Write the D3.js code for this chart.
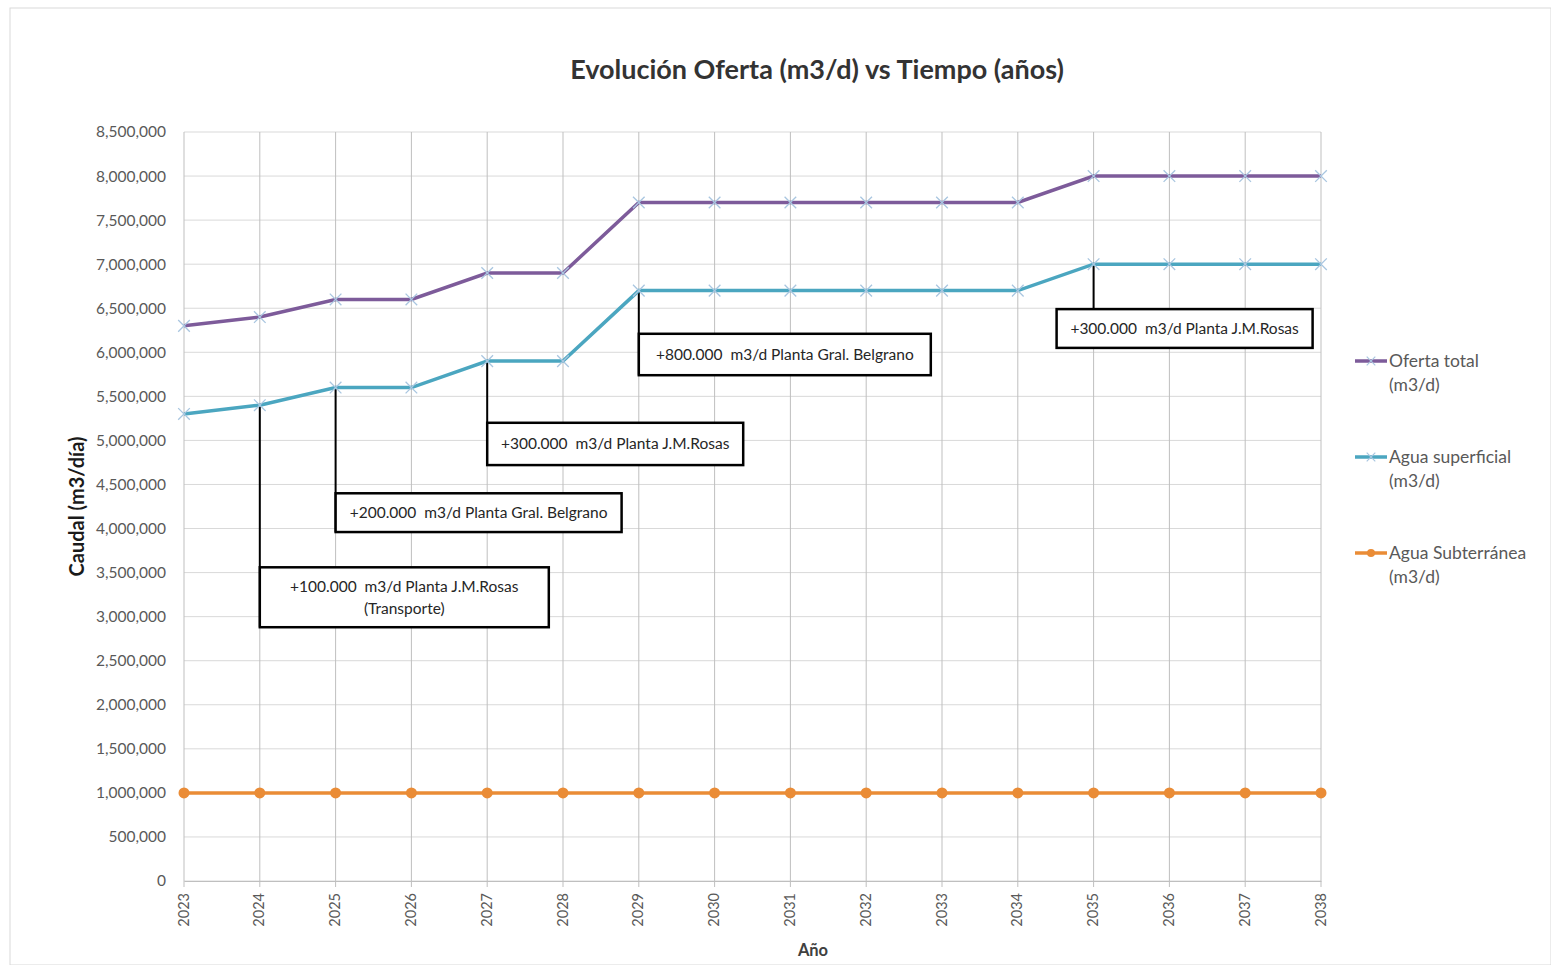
<!DOCTYPE html>
<html>
<head>
<meta charset="utf-8">
<script src="https://d3js.org/d3.v7.min.js"></script>
<style>
body { margin: 0; background: #fff; }
text { font-family: Lato, "Open Sans", sans-serif; }
</style>
</head>
<body>
<svg id="chart"></svg>
<script>
// data
var years = ["2023","2024","2025","2026","2027","2028","2029","2030","2031","2032","2033","2034","2035","2036","2037","2038"];
var ofertaTotal = [6300000,6400000,6600000,6600000,6900000,6900000,7700000,7700000,7700000,7700000,7700000,7700000,8000000,8000000,8000000,8000000];
var aguaSuperficial = [5300000,5400000,5600000,5600000,5900000,5900000,6700000,6700000,6700000,6700000,6700000,6700000,7000000,7000000,7000000,7000000];
var aguaSubterranea = [1000000,1000000,1000000,1000000,1000000,1000000,1000000,1000000,1000000,1000000,1000000,1000000,1000000,1000000,1000000,1000000];
var yTicks = [0,500000,1000000,1500000,2000000,2500000,3000000,3500000,4000000,4500000,5000000,5500000,6000000,6500000,7000000,7500000,8000000,8500000];

var seriesNames = ["Oferta total", "Agua superficial", "Agua Subterránea"];

// annotations: year of the step, box top / bottom in axis units
var notes = [
  {year: "2024", lines: ["+100.000  m3/d Planta J.M.Rosas", "(Transporte)"], top: 3560000, bottom: 2880000, w: 289, dx: 0},
  {year: "2025", lines: ["+200.000  m3/d Planta Gral. Belgrano"], top: 4400000, bottom: 3960000, w: 286, dx: 0},
  {year: "2027", lines: ["+300.000  m3/d Planta J.M.Rosas"], top: 5200000, bottom: 4720000, w: 256, dx: 0},
  {year: "2029", lines: ["+800.000  m3/d Planta Gral. Belgrano"], top: 6210000, bottom: 5740000, w: 292, dx: 0},
  {year: "2035", lines: ["+300.000  m3/d Planta J.M.Rosas"], top: 6490000, bottom: 6050000, w: 256, dx: -37}
];

var W = 1551, H = 965;
var margin = {top: 132, right: 230, bottom: 84, left: 184},
width = W - margin.left - margin.right,
height = H - margin.top - margin.bottom;

var svg = d3.select("#chart")
.attr("width", W)
.attr("height", H);

// chart frame
svg.append("rect")
.attr("x", 10).attr("y", 8)
.attr("width", W - 10).attr("height", H - 8)
.attr("fill", "#fff")
.attr("stroke", "#d9d9d9");

svg.append("text")
.attr("x", 817).attr("y", 79)
.attr("text-anchor", "middle")
.attr("font-size", 27)
.attr("font-weight", "bold")
.attr("fill", "#333")
.text("Evolución Oferta (m3/d) vs Tiempo (años)");

var g = svg.append("g")
.attr("transform", "translate(" + margin.left + "," + margin.top + ")");

var x = d3.scalePoint()
.domain(years)
.range([0, width]);

var y = d3.scaleLinear()
.domain([0, 8500000])
.range([height, 0]);

// horizontal grid
g.append("g")
.selectAll("line")
.data(yTicks)
.enter()
.append("line")
.attr("x1", 0).attr("x2", width)
.attr("y1", function(d) { return y(d); })
.attr("y2", function(d) { return y(d); })
.attr("stroke", "#d9d9d9");

// vertical grid
g.append("g")
.selectAll("line")
.data(years)
.enter()
.append("line")
.attr("x1", function(d) { return x(d); })
.attr("x2", function(d) { return x(d); })
.attr("y1", 0).attr("y2", height + 6)
.attr("stroke", "#bfbfbf");

// y axis
var yAxis = g.append("g")
.call(d3.axisLeft(y).tickValues(yTicks).tickFormat(d3.format(",")).tickSize(0).tickPadding(18));
yAxis.select(".domain").remove();
yAxis.selectAll("text")
.attr("font-size", 15.5)
.attr("fill", "#595959")
.style("font-family", "Lato, sans-serif");

// x axis
var xAxis = g.append("g")
.attr("transform", "translate(0," + height + ")")
.call(d3.axisBottom(x).tickSize(0));
xAxis.select(".domain").attr("stroke", "#bfbfbf");
xAxis.selectAll("text")
.attr("font-size", 14.5)
.attr("fill", "#595959")
.style("font-family", "Lato, sans-serif")
.attr("transform", "translate(-1,12)rotate(-90)")
.attr("dy", "0.35em")
.attr("x", 0).attr("y", 0)
.style("text-anchor", "end");

// axis titles
svg.append("text")
.attr("transform", "translate(84," + (margin.top + height / 2) + ")rotate(-90)")
.attr("text-anchor", "middle")
.attr("font-size", 20)
.attr("font-weight", "bold")
.attr("fill", "#1a1a1a")
.text("Caudal (m3/día)");

svg.append("text")
.attr("x", 813).attr("y", 956)
.attr("text-anchor", "middle")
.attr("font-size", 16.5)
.attr("font-weight", "bold")
.attr("fill", "#404040")
.text("Año");

// annotations (under the lines)
var ann = g.append("g");
notes.forEach(function(n) {
  var i = years.indexOf(n.year);
  var px = x(n.year);
  var py = y(aguaSuperficial[i]);
  var bx = px + n.dx;
  var bt = y(n.top), bb = y(n.bottom);
  ann.append("line")
    .attr("x1", px).attr("x2", px)
    .attr("y1", py).attr("y2", n.dx === 0 ? bb : bt)
    .attr("stroke", "#000").attr("stroke-width", 2);
  ann.append("rect")
    .attr("x", bx).attr("y", bt)
    .attr("width", n.w).attr("height", bb - bt)
    .attr("fill", "#fff")
    .attr("stroke", "#000").attr("stroke-width", 2.5);
  var lh = 22;
  var cy = (bt + bb) / 2 - (n.lines.length - 1) * lh / 2;
  n.lines.forEach(function(t, k) {
    ann.append("text")
      .attr("x", bx + n.w / 2)
      .attr("y", cy + k * lh)
      .attr("dy", "0.35em")
      .attr("text-anchor", "middle")
      .attr("font-size", 15.5)
      .attr("fill", "#262626")
      .style("white-space", "pre")
      .text(t);
  });
});

var series = [
  {name: seriesNames[0], values: ofertaTotal, color: "#7d5b9a", marker: "x"},
  {name: seriesNames[1], values: aguaSuperficial, color: "#4ba6c0", marker: "x"},
  {name: seriesNames[2], values: aguaSubterranea, color: "#ea8c36", marker: "circle"}
];

var line = d3.line()
.x(function(d, i) { return x(years[i]); })
.y(function(d) { return y(d); });

series.forEach(function(s) {
  g.append("path")
    .datum(s.values)
    .attr("fill", "none")
    .attr("stroke", s.color)
    .attr("stroke-width", 3.5)
    .attr("d", line);

  if (s.marker === "circle") {
    g.selectAll(null)
      .data(s.values)
      .enter()
      .append("circle")
      .attr("cx", function(d, i) { return x(years[i]); })
      .attr("cy", function(d) { return y(d); })
      .attr("r", 5.5)
      .attr("fill", s.color);
  } else {
    g.selectAll(null)
      .data(s.values)
      .enter()
      .append("path")
      .attr("transform", function(d, i) { return "translate(" + x(years[i]) + "," + y(d) + ")"; })
      .attr("d", d3.symbol().type(d3.symbolTimes).size(90))
      .attr("fill", "none")
      .attr("stroke", "#a9c6e0")
      .attr("stroke-width", 1.3);
  }
});

// legend
var legend = svg.append("g")
.attr("transform", "translate(1355,361)");
series.forEach(function(s, k) {
  var lg = legend.append("g").attr("transform", "translate(0," + (k * 96) + ")");
  lg.append("line")
    .attr("x1", 0).attr("x2", 32)
    .attr("y1", 0).attr("y2", 0)
    .attr("stroke", s.color).attr("stroke-width", 3.5);
  if (s.marker === "circle") {
    lg.append("circle").attr("cx", 16).attr("cy", 0).attr("r", 4).attr("fill", s.color);
  } else {
    lg.append("path")
      .attr("transform", "translate(16,0)")
      .attr("d", d3.symbol().type(d3.symbolTimes).size(50))
      .attr("stroke", "#a9c6e0").attr("stroke-width", 1.2);
  }
  var tx = lg.append("text")
    .attr("x", 34).attr("y", 0)
    .attr("dy", "0.35em")
    .attr("font-size", 17.5)
    .attr("fill", "#595959");
  tx.append("tspan").text(s.name);
  tx.append("tspan").attr("x", 34).attr("dy", 24).text("(m3/d)");
});
</script>
</body>
</html>
